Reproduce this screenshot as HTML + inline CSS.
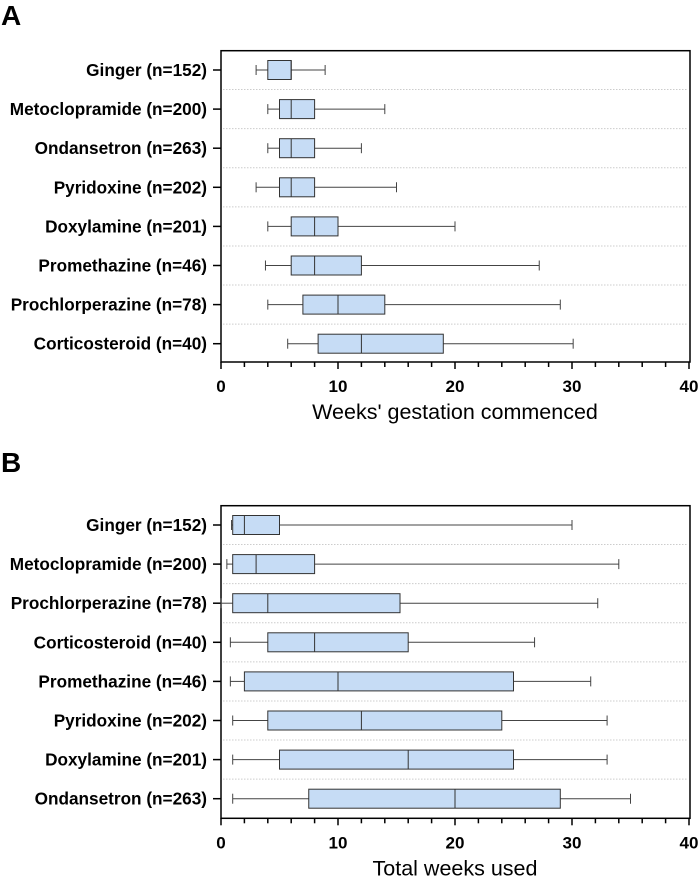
<!DOCTYPE html>
<html><head><meta charset="utf-8"><style>
body{margin:0;background:#fff}
svg text{font-family:"Liberation Sans",Arial,sans-serif}
</style></head><body>
<svg id="c" width="699" height="876" viewBox="0 0 699 876" xmlns="http://www.w3.org/2000/svg"></svg>
<script>
const catsA=["Ginger (n=152)","Metoclopramide (n=200)","Ondansetron (n=263)","Pyridoxine (n=202)","Doxylamine (n=201)","Promethazine (n=46)","Prochlorperazine (n=78)","Corticosteroid (n=40)"];
const minA=[3,4,4,3,4,3.8,4,5.7];
const q1A=[4,5,5,5,6,6,7,8.3];
const medA=[6,6,6,6,8,8,10,12];
const q3A=[6,8,8,8,10,12,14,19];
const maxA=[8.9,14,12,15,20,27.2,29,30.1];
const catsB=["Ginger (n=152)","Metoclopramide (n=200)","Prochlorperazine (n=78)","Corticosteroid (n=40)","Promethazine (n=46)","Pyridoxine (n=202)","Doxylamine (n=201)","Ondansetron (n=263)"];
const minB=[0.9,0.5,0,0.8,0.8,1,1,1];
const q1B=[1,1,1,4,2,4,5,7.5];
const medB=[2,3,4,8,10,12,16,20];
const q3B=[5,8,15.3,16,25,24,25,29];
const maxB=[30,34,32.2,26.8,31.6,33,33,35];
const ticks=[0,10,20,30,40];
const titles=["Weeks' gestation commenced","Total weeks used"];
const NS="http://www.w3.org/2000/svg";
const svg=document.getElementById('c');
function mk(t,a,p){const e=document.createElementNS(NS,t);for(const k in a)e.setAttribute(k,a[k]);(p||svg).appendChild(e);return e;}
function panel(letter,top,bot,row0,cats,mn,q1,md,q3,mx,title,ly){
  const L=221,R=689;
  const x=v=>L+(R-L)*v/40;
  const y=i=>row0+i*39.1;
  const g=mk('g',{});
  
  
  let t=mk('text',{x:1,y:ly,'font-size':28,'font-weight':'bold'},g);t.textContent=letter;
  
  mk('rect',{x:L,y:top,width:R-L+1,height:bot-top,fill:'none',stroke:'#000','stroke-width':1.5},g);
  for(let i=1;i<cats.length;i++){const yy=(y(i-1)+y(i))/2;mk('line',{x1:L+2,x2:R-1,y1:yy,y2:yy,stroke:'#ccc','stroke-dasharray':'1.5,1.5','stroke-width':1},g);}
  cats.forEach((c,i)=>{
    const yy=y(i);
    const lb=mk('text',{x:207,y:yy+6,'font-size':17.2,'font-weight':'bold','text-anchor':'end'},g);lb.textContent=c;
    
    mk('line',{x1:213,x2:L,y1:yy,y2:yy,stroke:'#000','stroke-width':1.5},g);
    const b=mk('g',{},g);
    
    
    mk('line',{x1:x(mn[i]),x2:x(q1[i]),y1:yy,y2:yy,stroke:'#444'},b);
    mk('line',{x1:x(q3[i]),x2:x(mx[i]),y1:yy,y2:yy,stroke:'#444'},b);
    mk('line',{x1:x(mn[i]),x2:x(mn[i]),y1:yy-5,y2:yy+5,stroke:'#444'},b);
    mk('line',{x1:x(mx[i]),x2:x(mx[i]),y1:yy-5,y2:yy+5,stroke:'#444'},b);
    mk('rect',{x:x(q1[i]),y:yy-9.5,width:x(q3[i])-x(q1[i]),height:19,fill:'#c6dcf5',stroke:'#333'},b);
    mk('line',{x1:x(md[i]),x2:x(md[i]),y1:yy-9.5,y2:yy+9.5,stroke:'#333'},b);
  });
  for(let v=0;v<=40;v+=2){mk('line',{x1:x(v),x2:x(v),y1:bot,y2:bot+(v%10?5:7),stroke:'#000','stroke-width':1.5},g);}
  ticks.forEach(v=>{const tt=mk('text',{x:x(v),y:bot+30,'font-size':17,'font-weight':'bold','text-anchor':'middle'},g);tt.textContent=v;
    });
  const at=mk('text',{x:455,y:bot+57,'font-size':21.5,'text-anchor':'middle'},g);at.textContent=title;
  
}
panel('A',50.7,362,70,catsA,minA,q1A,medA,q3A,maxA,titles[0],25);
panel('B',505.7,818.3,525,catsB,minB,q1B,medB,q3B,maxB,titles[1],472);
</script>
</body></html>
